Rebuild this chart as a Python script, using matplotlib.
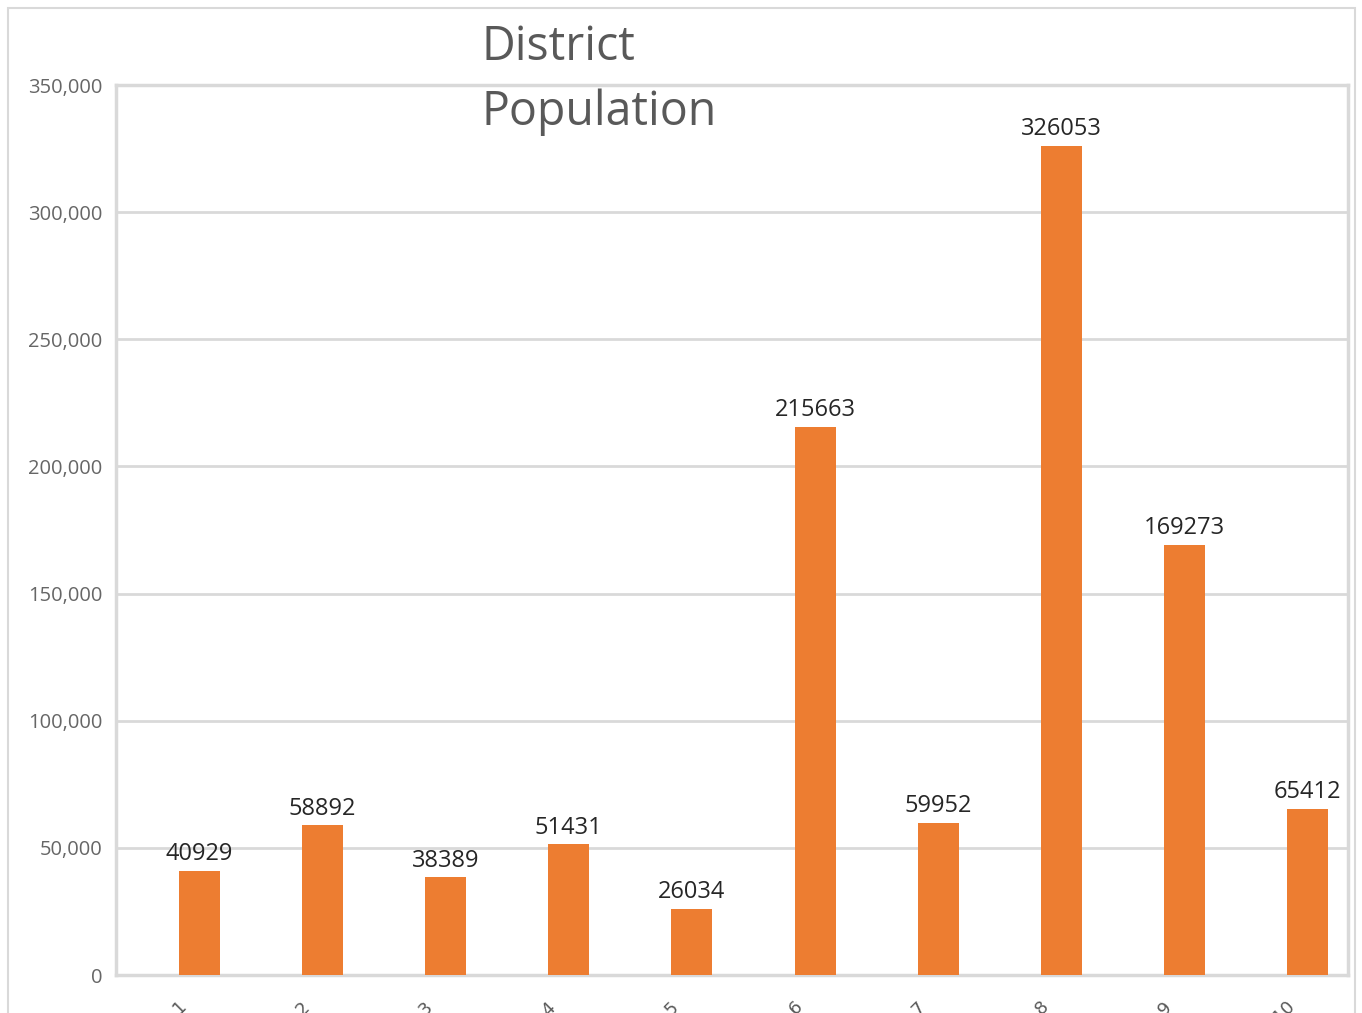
import matplotlib
matplotlib.use("Agg")
import matplotlib.pyplot as plt
from matplotlib.ticker import FuncFormatter, MultipleLocator
from matplotlib.patches import Rectangle

categories = ["District 1", "District 2", "District 3", "District 4", "District 5",
              "District 6", "District 7", "District 8", "District 9", "District 10"]
population = [40929, 58892, 38389, 51431, 26034, 215663, 59952, 326053, 169273, 65412]
title = "District\nPopulation"

W, H = 1362, 1013
fig = plt.figure(figsize=(W / 100, H / 100), dpi=100)
fig.patch.set_facecolor("white")

# outer chart border
fig.patches.append(Rectangle((8 / W, -0.01), (1355 - 8) / W, (H - 8) / H + 0.01,
                             transform=fig.transFigure, fill=False,
                             edgecolor="#D9D9D9", linewidth=1.5))

left, right, top, bottom = 116, 1348, 85, 975
ax = fig.add_axes([left / W, 1 - bottom / H, (right - left) / W, (bottom - top) / H])

xs = list(range(len(categories)))
offset = 0.674
ax.bar(xs, population, width=0.333, color="#ED7D31", zorder=3)
ax.set_xlim(-offset, len(categories) - offset)
ax.set_ylim(0, 350000)

ax.yaxis.set_major_locator(MultipleLocator(50000))
ax.yaxis.set_major_formatter(FuncFormatter(lambda v, p: f"{int(v):,}"))
ax.grid(axis="y", color="#D9D9D9", linewidth=2, zorder=0)
for s in ax.spines.values():
    s.set_color("#D9D9D9")
    s.set_linewidth(2.5)

ax.tick_params(axis="y", length=0, pad=10, labelsize=14.5, labelcolor="#666666")
for lbl in ax.get_yticklabels():
    lbl.set_fontfamily("Open Sans")

# category label positions (centres of category slots)
ax.set_xticks([x - offset + 0.5 for x in xs])
ax.set_xticklabels(categories, rotation=45, ha="right", rotation_mode="anchor",
                   fontsize=13, color="#595959")
ax.tick_params(axis="x", length=0, pad=17)

for x, v in zip(xs, population):
    ax.text(x, v + 1800, str(v), ha="center", va="bottom", fontsize=17,
            color="#262626", family="Open Sans", zorder=4)

fig.text(481 / W, 1 - 23 / H, title, ha="left", va="top", fontsize=33.5,
         color="#595959", family="Open Sans", linespacing=1.5)

fig.savefig("out.png", dpi=100, facecolor="white")
